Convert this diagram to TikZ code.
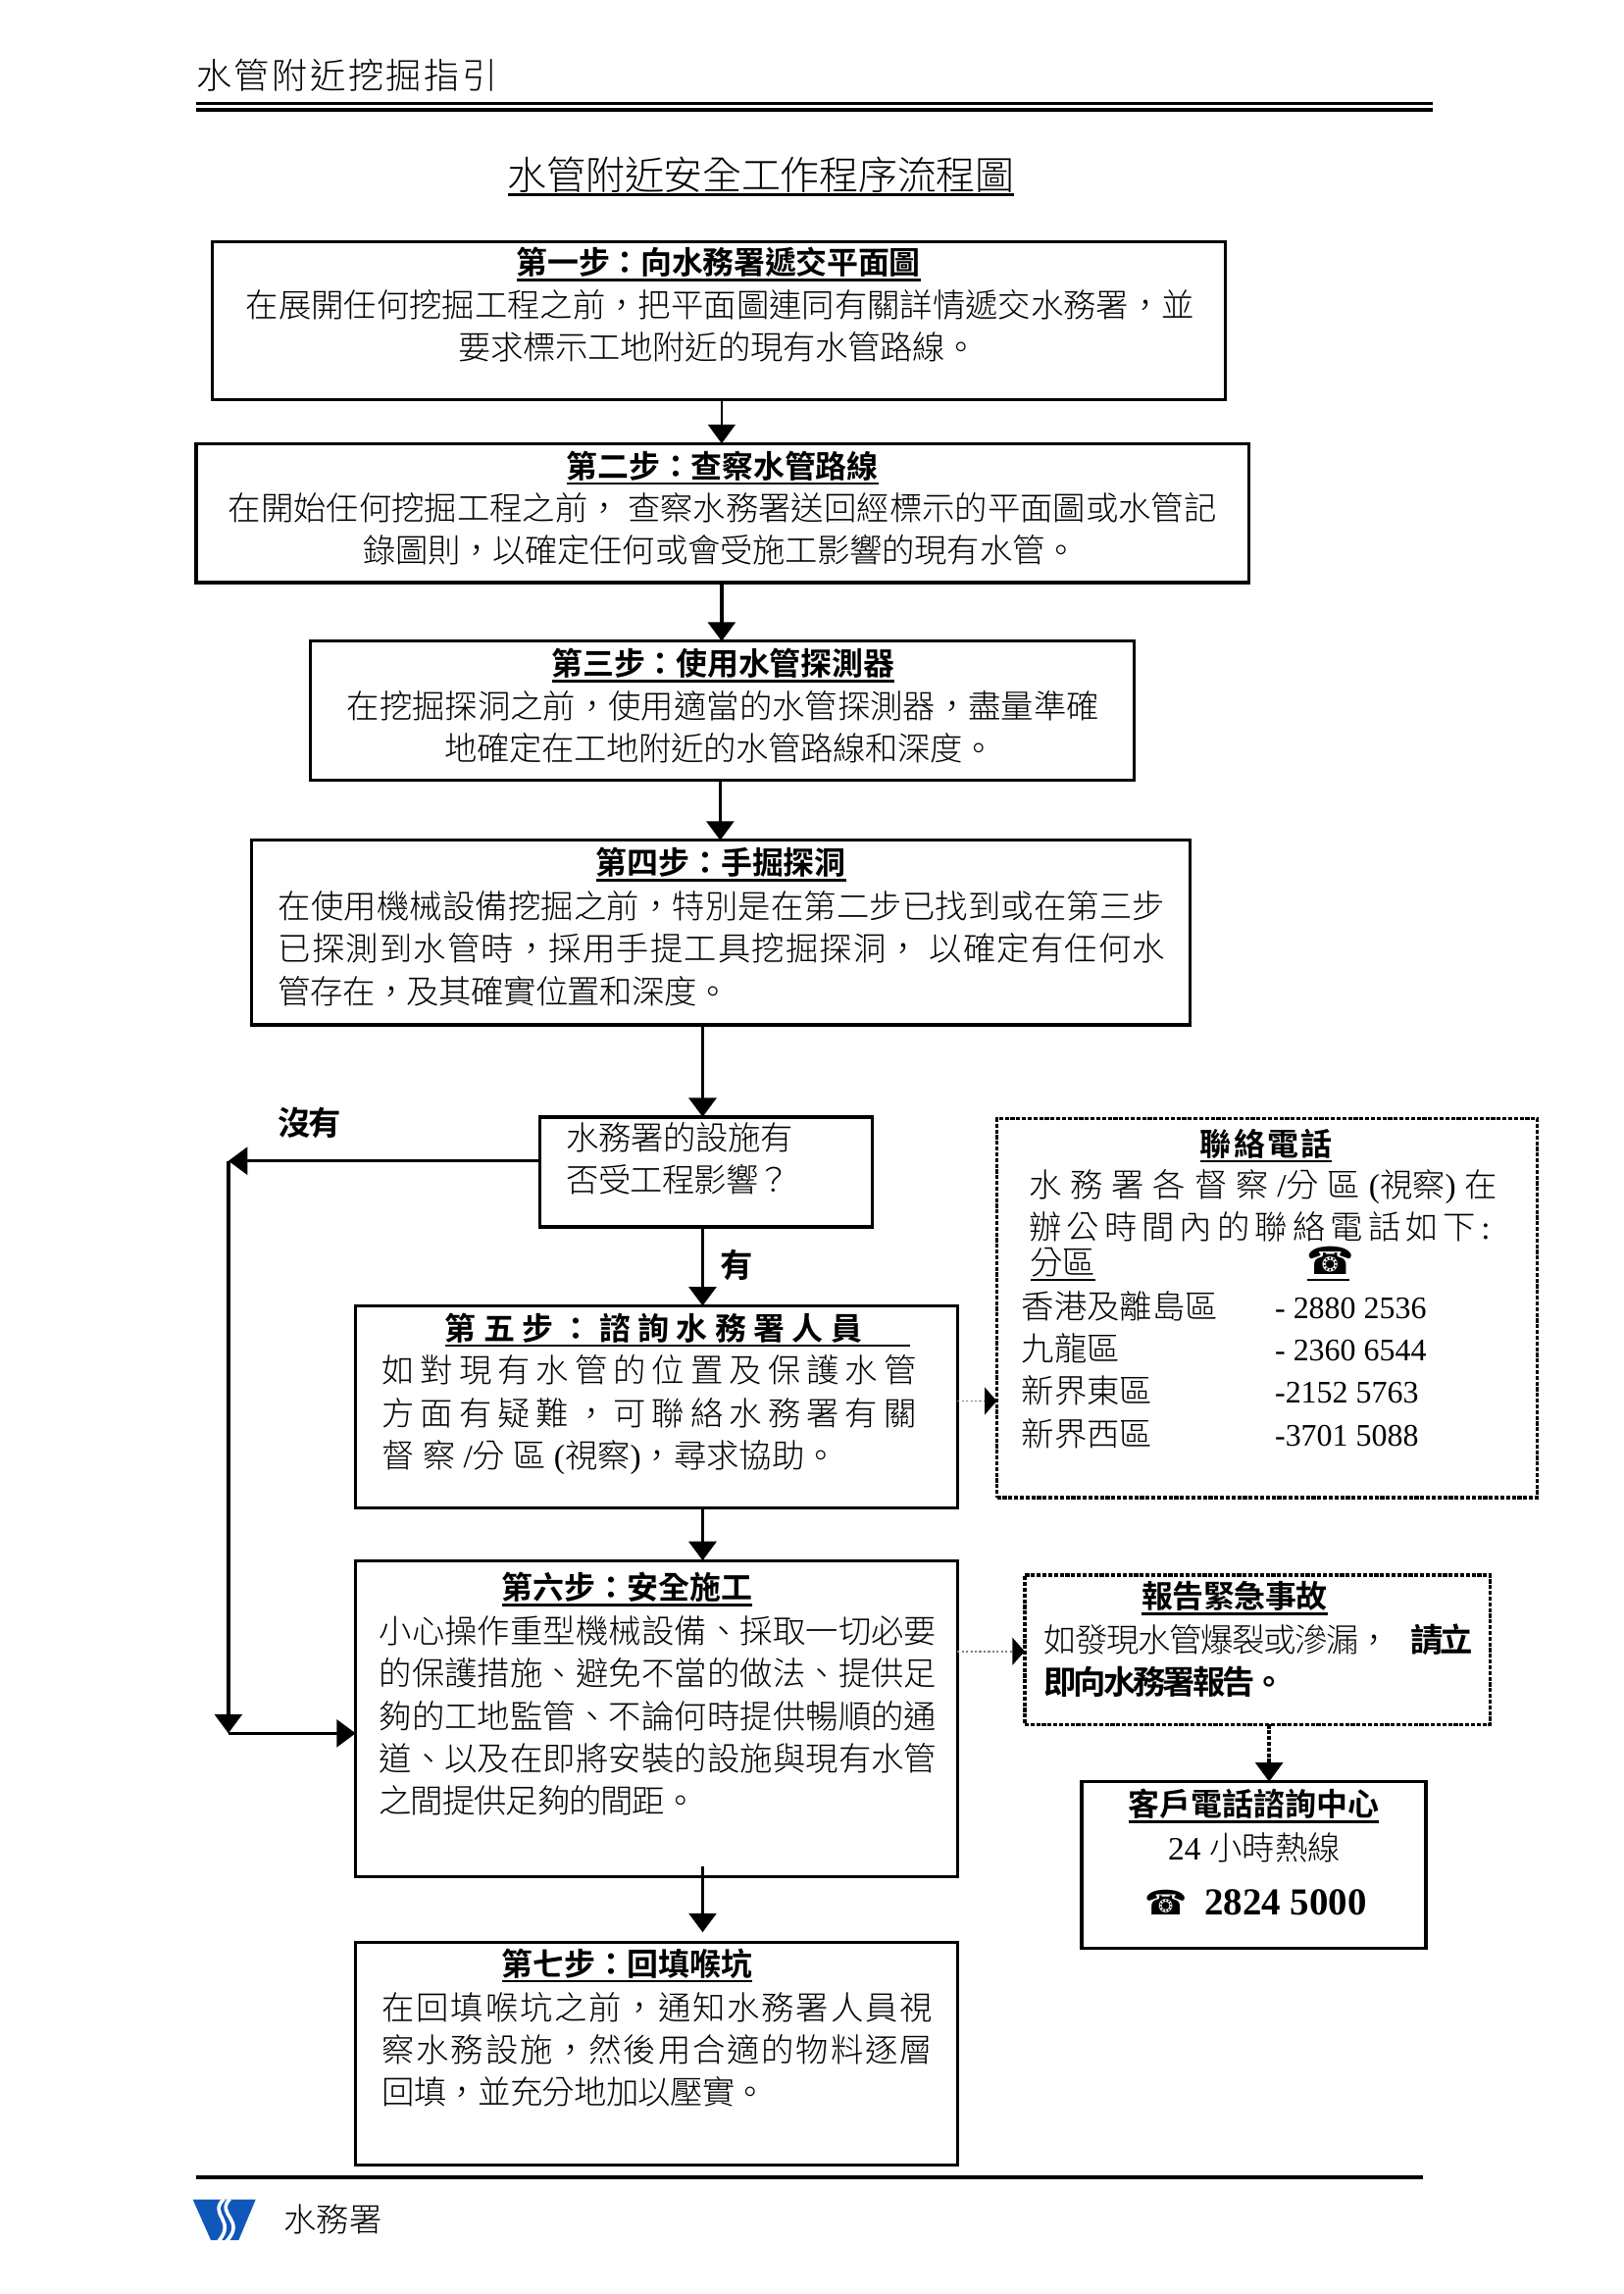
\documentclass[tikz,border=0pt]{standalone}
\usepackage{fontspec}
\usetikzlibrary{arrows.meta}
\setmainfont{Noto Sans CJK TC Light}[BoldFont={Noto Sans CJK TC Bold}]
\newfontfamily\lat{Liberation Serif}
\newfontfamily\symf{DejaVu Sans}
\definecolor{wsdblue}{HTML}{1058B8}
\ExplSyntaxOn
\cs_new_protected:Npn \rsk_jl:nn #1#2
  { \hbox~to~#1 { \tl_map_inline:nn {#2} { {##1} \hskip 0pt plus 1fil minus 1fil } \hskip 0pt plus -1fil minus -1fil } }
\NewDocumentCommand \spreadline { m m } { \rsk_jl:nn {#1} {#2} }
\ExplSyntaxOff
\newcommand\unitw[2]{\dimexpr .5373pt*\numexpr#2-#1\relax\relax}
\newcommand\ulbox[3]{\setbox0=\hbox to \unitw{#1}{#2}{#3\hss}\dp0=0pt \vtop{\box0\kern1.5pt\hrule height 1pt}}
\newcommand\bodyf{\fontsize{12}{14}\selectfont}
\newcommand\headf{\fontsize{11.5}{14}\selectfont\bfseries}
\tikzset{
  x=.5373pt,y=-.5373pt,
  txtline/.style={anchor=base west,inner sep=0pt,outer sep=0pt,font=\bodyf},
  heading/.style={font=\headf},
  bigtitle/.style={font=\fontsize{14.4}{16}\selectfont},
  pagehead/.style={font=\fontsize{13}{16}\selectfont},
  boldline/.style={font=\fontsize{12}{14}\selectfont\bfseries},
  phone/.style={font=\fontsize{11.5}{14}\selectfont\lat},
  solidbox/.style={draw,line width=1.2pt,inner sep=0pt,outer sep=0pt},
  dashbox/.style={draw,line width=1.2pt,inner sep=0pt,outer sep=0pt,dash pattern=on 1.5pt off .6pt},
  arr/.style={line width=1.3pt,-{Triangle[length=7pt,width=10pt]}},
  thinarr/.style={line width=.8pt,-{Triangle[length=7pt,width=10pt]}},
  dotarr/.style={line width=.6pt,gray,dash pattern=on .8pt off .8pt,-{Triangle[length=4.5pt,width=10pt,color=black]}},
  dasharr/.style={line width=1.2pt,dash pattern=on 1.5pt off .6pt,-{Triangle[length=7pt,width=10pt]}},
}
\newcommand\boxN[6][solidbox]{\node[#1,minimum width=\unitw{#3}{#5},minimum height=\unitw{#4}{#6}] (#2) at ({(#3+#5)/2},{(#4+#6)/2}) {};}
\newcommand\lineT[6][]{\node[txtline,#1] (#2) at (#3,{#5+8.5}) {\spreadline{\unitw{#3}{#4}}{#6}};}
\newcommand\lineU[7][]{\node[txtline,#1] (#2) at (#3,{#6+8.5}) {\ulbox{#3}{#5}{\spreadline{\unitw{#3}{#4}}{#7}}};}
\begin{document}
\begin{tikzpicture}
\useasboundingbox (0,0) rectangle (1108.8,1567);
\fill[white] (0,0) rectangle (1108.8,1567);
% header
\lineT[pagehead]{hdr}{134}{340}{52}{水管附近挖掘指引}
\fill (134,69.5) rectangle (979,72);
\fill (134,74) rectangle (979,76.5);
\lineU[bigtitle]{title}{347}{693}{693}{121}{水管附近安全工作程序流程圖}
% boxes
\boxN{b1}{145}{165}{837}{273}
\boxN{b2}{134}{303}{853}{398}
\boxN{b3}{212}{438}{775}{533}
\boxN{b4}{172}{574}{813}{700}
\boxN{dec}{369}{763}{596}{838}
\boxN[dashbox]{contact}{681}{764}{1050}{1023}
\boxN{b5}{243}{892}{654}{1030}
\boxN{b6}{243}{1066}{654}{1282}
\boxN{b7}{243}{1327}{654}{1479}
\boxN[dashbox]{emerg}{700}{1076}{1018}{1178}
\boxN{hot}{739}{1217}{974}{1331}
% box 1
\lineU[heading]{t1}{353}{629}{629}{179}{第一步：向水務署遞交平面圖}
\lineT{t1a}{168}{816}{208}{在展開任何挖掘工程之前，把平面圖連同有關詳情遞交水務署，並}
\lineT{t1b}{313}{668}{237}{要求標示工地附近的現有水管路線。}
% box 2
\lineU[heading]{t2}{387}{600}{600}{318}{第二步：查察水管路線}
\lineT{t2a}{156}{831}{347}{在開始任何挖掘工程之前，{~}查察水務署送回經標示的平面圖或水管記}
\lineT{t2b}{248}{736}{376}{錄圖則，以確定任何或會受施工影響的現有水管。}
% box 3
\lineU[heading]{t3}{377}{611}{611}{453}{第三步：使用水管探測器}
\lineT{t3a}{237}{751}{482}{在挖掘探洞之前，使用適當的水管探測器，盡量準確}
\lineT{t3b}{304}{680}{511}{地確定在工地附近的水管路線和深度。}
% box 4
\lineU[heading]{t4}{407}{578}{578}{589}{第四步：手掘探洞}
\lineT{t4a}{190}{796}{619}{在使用機械設備挖掘之前，特別是在第二步已找到或在第三步}
\lineT{t4b}{190}{796}{648}{已探測到水管時，採用手提工具挖掘探洞，{~}以確定有任何水}
\lineT{t4c}{190}{498}{677}{管存在，及其確實位置和深度。}
% decision
\lineT{da}{387}{542}{777}{水務署的設施有}
\lineT{db}{387}{540}{806}{否受工程影響？}
\lineT[boldline]{no}{190}{233}{767}{沒有}
\lineT[boldline]{yes}{492}{514}{864}{有}
% contact
\lineU[heading]{ct}{820}{910}{910}{781}{聯絡電話}
\lineT{ca}{703}{1023}{809}{水務署各督察{{\lat /}分}區{{\lat (}視察{\lat )}}在}
\lineT{cb}{703}{1018}{838}{辦公時間內的聯絡電話如下{\lat :}}
\lineU{chd}{704}{748}{748}{862}{分區}
\lineU{cph}{893}{921}{922}{862}{{\symf\fontsize{14}{14}\selectfont ☎}}
\lineT{r1}{698}{832}{892}{香港及離島區}
\lineT{r2}{698}{765}{921}{九龍區}
\lineT{r3}{698}{787}{950}{新界東區}
\lineT{r4}{698}{787}{979}{新界西區}
\node[txtline,phone] (p1) at (871,900.5) {- 2880 2536};
\node[txtline,phone] (p2) at (871,929.5) {- 2360 6544};
\node[txtline,phone] (p3) at (871,958.5) {-2152 5763};
\node[txtline,phone] (p4) at (871,987.5) {-3701 5088};
% box 5
\lineU[heading]{t5}{304}{589}{622}{907}{第五步：諮詢水務署人員}
\lineT{t5a}{261}{626}{936}{如對現有水管的位置及保護水管}
\lineT{t5b}{261}{626}{965}{方面有疑難，可聯絡水務署有關}
\lineT{t5c}{261}{572}{994}{督察{{\lat /}分}區{{\lat (}視察{\lat )}，尋求協助。}}
% box 6
\lineU[heading]{t6}{343}{514}{514}{1084}{第六步：安全施工}
\lineT{t6a}{259}{640}{1114}{小心操作重型機械設備、採取一切必要}
\lineT{t6b}{259}{640}{1143}{的保護措施、避免不當的做法、提供足}
\lineT{t6c}{259}{640}{1172}{夠的工地監管、不論何時提供暢順的通}
\lineT{t6d}{259}{640}{1201}{道、以及在即將安裝的設施與現有水管}
\lineT{t6e}{259}{476}{1230}{之間提供足夠的間距。}
% box 7
\lineU[heading]{t7}{343}{514}{514}{1341}{第七步：回填喉坑}
\lineT{t7a}{261}{637}{1371}{在回填喉坑之前，通知水務署人員視}
\lineT{t7b}{261}{637}{1400}{察水務設施，然後用合適的物料逐層}
\lineT{t7c}{261}{524}{1429}{回填，並充分地加以壓實。}
% emergency
\lineU[heading]{et}{780}{907}{907}{1090}{報告緊急事故}
\lineT{ea}{713}{950}{1120}{如發現水管爆裂或滲漏，}
\lineT[boldline]{eb}{964}{1006}{1120}{請立}
\lineT[boldline]{ec}{713}{878}{1149}{即向水務署報告。}
% hotline
\lineU[heading]{ht}{771}{942}{942}{1232}{客戶電話諮詢中心}
\lineT{ha}{798}{916}{1262}{{\lat 24~}小時熱線}
\node[txtline,font=\fontsize{12.5}{14}\selectfont\symf] (hp) at (782,1308) {☎};
\node[txtline,font=\fontsize{14}{14}\selectfont\lat\bfseries] (hn) at (823,1308) {2824 5000};
% connectors
\coordinate (a1) at (493,0);
\coordinate (a2) at (492,0);
\coordinate (a3) at (480,0);
\coordinate (nj) at (156,793);
\coordinate (sj) at (156,1184);
\coordinate (d5) at (0,957);
\coordinate (d6) at (0,1128);
\coordinate (e1) at (867,0);
\draw[thinarr] (a1 |- b1.south) -- (a1 |- b2.north);
\draw[arr] (a1 |- b2.south) -- (a1 |- b3.north);
\draw[arr] (a2 |- b3.south) -- (a2 |- b4.north);
\draw[arr] (a3 |- b4.south) -- (a3 |- dec.north);
\draw[arr] (dec.west |- nj) -- (nj);
\draw[arr] (nj) -- (sj);
\draw[arr] (sj) -- (b6.west |- sj);
\draw[arr] (a3 |- dec.south) -- (a3 |- b5.north);
\draw[arr] (a3 |- b5.south) -- (a3 |- b6.north);
\draw[arr] ([yshift=3.8pt]a3 |- b6.south) -- ([yshift=3.8pt]a3 |- b7.north);
\draw[dotarr] (b5.east |- d5) -- (contact.west |- d5);
\draw[dotarr] (b6.east |- d6) -- (emerg.west |- d6);
\draw[dasharr] (e1 |- emerg.south) -- (e1 |- hot.north);
% footer
\fill (134,1486) rectangle (972,1488.5);
\lineT{ftr}{194}{261}{1516}{水務署}
\begin{scope}[shift={(120.6,1460.5)},x=.12pt,y=-.12pt]
\fill[wsdblue] (50,188) -- (242,188) -- (190,312) -- (105,312) -- cycle;
\draw[white,line width=1.3pt] (145,186) .. controls (95,235) and (185,250) .. (128,316);
\draw[white,line width=1.3pt] (163,186) .. controls (118,235) and (215,250) .. (152,316);
\end{scope}
\end{tikzpicture}
\end{document}
